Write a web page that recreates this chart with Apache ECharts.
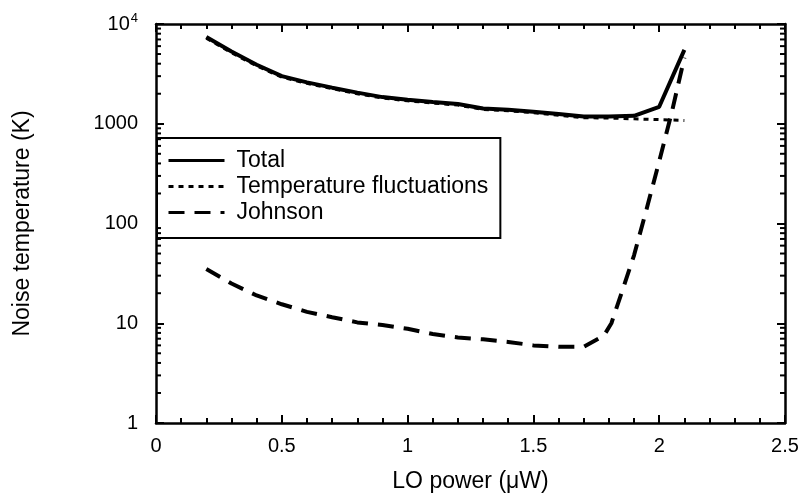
<!DOCTYPE html>
<html>
<head>
<meta charset="utf-8">
<script src="https://cdn.jsdelivr.net/npm/echarts@6/dist/echarts.min.js"></script>
<style>
  html, body { margin: 0; padding: 0; background: #fff; }
  #chart { width: 804px; height: 498px; }
</style>
</head>
<body>
<div id="chart"></div>
<script>
// LO power (uW) for Total and Temperature fluctuations
const powerA = [0.2, 0.3, 0.4, 0.5, 0.6, 0.7, 0.8, 0.9, 1.0, 1.1, 1.2, 1.3, 1.4, 1.5, 1.6, 1.7, 1.8, 1.9, 2.0, 2.1]
const totalK = [7400, 5300, 3900, 3000, 2600, 2300, 2050, 1850, 1740, 1650, 1580, 1420, 1380, 1320, 1250, 1180, 1180, 1200, 1480, 5500]
const tempFluctK = [7200, 5150, 3800, 2930, 2540, 2250, 2000, 1810, 1700, 1610, 1540, 1390, 1350, 1290, 1220, 1150, 1140, 1120, 1100, 1080]
// LO power (uW) for Johnson noise
const powerJ = [0.2, 0.3, 0.4, 0.5, 0.6, 0.7, 0.8, 0.9, 1.0, 1.1, 1.2, 1.3, 1.4, 1.5, 1.6, 1.7, 1.78, 1.81, 1.85, 1.9, 1.95, 2.0, 2.05, 2.1]
const johnsonK = [35, 25, 19, 15.5, 13, 11.5, 10.2, 9.6, 8.8, 7.8, 7.2, 6.9, 6.5, 6.0, 5.8, 5.8, 7.5, 10, 20, 48, 140, 420, 1300, 4600]

// minor ticks of the log axis (2..9 in every decade)
const yMinor = [2, 3, 4, 5, 6, 7, 8, 9, 20, 30, 40, 50, 60, 70, 80, 90,
  200, 300, 400, 500, 600, 700, 800, 900, 2000, 3000, 4000, 5000, 6000, 7000, 8000, 9000]

const font = 'Liberation Sans'
const black = '#000'

const pairs = (xs, ys) => xs.map((x, i) => [x, ys[i]])

function xAxisOf(pos) {
  return {
    type: 'value',
    position: pos,
    min: 0,
    max: 2.5,
    interval: 0.5,
    axisLine: { onZero: false, lineStyle: { color: black, width: 2.5 } },
    axisTick: { inside: true, length: 8, lineStyle: { color: black, width: 2 } },
    minorTick: { show: true, splitNumber: 5, length: 5, lineStyle: { color: black, width: 2 } },
    splitLine: { show: false },
    minorSplitLine: { show: false },
    axisLabel: {
      show: pos === 'bottom',
      color: black,
      fontFamily: font,
      fontSize: 20,
      margin: 13
    },
    name: pos === 'bottom' ? 'LO power (μW)' : '',
    nameLocation: 'middle',
    nameGap: 47,
    nameTextStyle: { color: black, fontFamily: font, fontSize: 23 }
  }
}

function yAxisOf(pos) {
  return {
    type: 'log',
    logBase: 10,
    position: pos,
    min: 1,
    max: 10000,
    axisLine: { onZero: false, lineStyle: { color: black, width: 2.5 } },
    axisTick: { inside: true, length: 8, lineStyle: { color: black, width: 2 } },
    splitLine: { show: false },
    axisLabel: {
      show: pos === 'left',
      color: black,
      fontFamily: font,
      fontSize: 20,
      margin: 18,
      formatter: v => (v >= 10000 ? '{b|10}{s|4}' : String(v)),
      rich: {
        b: { fontFamily: font, fontSize: 20, color: black },
        s: { fontFamily: font, fontSize: 13, color: black, padding: [0, 0, 11, 1] }
      }
    },
    name: pos === 'left' ? 'Noise temperature (K)' : '',
    nameLocation: 'middle',
    nameGap: 122,
    nameRotate: 90,
    nameTextStyle: { color: black, fontFamily: font, fontSize: 23 }
  }
}

// short inward ticks on both vertical frame edges, placed through the axes
function renderMinorTick(params, api) {
  const v = api.value(0)
  const l = api.coord([0, v])
  const r = api.coord([2.5, v])
  const style = { stroke: black, lineWidth: 2 }
  return {
    type: 'group',
    children: [
      { type: 'line', shape: { x1: l[0], y1: l[1], x2: l[0] + 5, y2: l[1] }, style },
      { type: 'line', shape: { x1: r[0] - 5, y1: r[1], x2: r[0], y2: r[1] }, style }
    ]
  }
}

const chart = echarts.init(document.getElementById('chart'))

chart.setOption({
  animation: false,
  backgroundColor: '#fff',
  grid: { left: 156, right: 19, top: 24, bottom: 75 },
  xAxis: [xAxisOf('bottom'), xAxisOf('top')],
  yAxis: [yAxisOf('left'), yAxisOf('right')],
  legend: {
    orient: 'vertical',
    left: 157,
    top: 138,
    padding: [11, 12, 14, 10],
    borderColor: black,
    borderWidth: 2,
    backgroundColor: '#fff',
    itemWidth: 56,
    itemHeight: 20,
    itemGap: 3,
    itemStyle: { opacity: 0 },
    lineStyle: { opacity: 1, width: 3 },
    textStyle: { color: black, fontFamily: font, fontSize: 23, lineHeight: 23, padding: [0, 0, 0, 7] },
    data: ['Total', 'Temperature fluctuations', 'Johnson']
  },
  series: [
    {
      name: 'Temperature fluctuations',
      type: 'line',
      symbol: 'none',
      z: 2,
      lineStyle: { color: black, width: 3, type: [5, 5] },
      itemStyle: { color: black },
      data: pairs(powerA, tempFluctK)
    },
    {
      name: 'Total',
      type: 'line',
      symbol: 'none',
      z: 3,
      lineStyle: { color: black, width: 4 },
      itemStyle: { color: black },
      data: pairs(powerA, totalK)
    },
    {
      name: 'Johnson',
      type: 'line',
      symbol: 'none',
      z: 2,
      lineStyle: { color: black, width: 4, type: [16, 10] },
      itemStyle: { color: black },
      data: pairs(powerJ, johnsonK)
    },
    {
      name: 'minor ticks',
      type: 'custom',
      silent: true,
      z: 4,
      xAxisIndex: 0,
      yAxisIndex: 0,
      renderItem: renderMinorTick,
      data: yMinor.map(v => [v])
    }
  ]
})
</script>
</body>
</html>
